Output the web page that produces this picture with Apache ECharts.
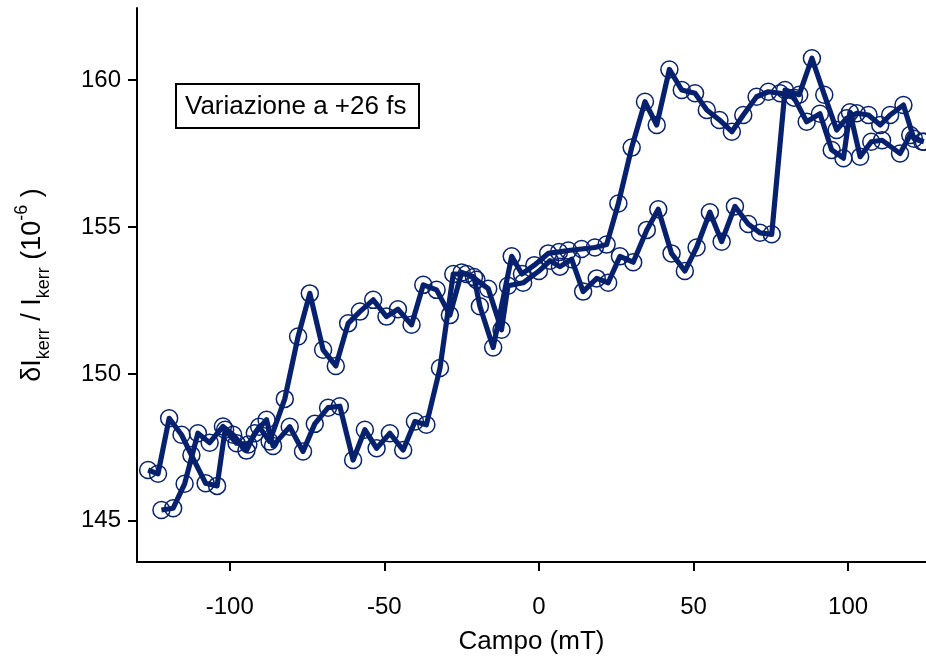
<!DOCTYPE html>
<html>
<head>
<meta charset="utf-8">
<script src="https://cdn.jsdelivr.net/npm/echarts@6/dist/echarts.min.js"></script>
<style>
  html, body { margin: 0; padding: 0; background: #fff; }
  #chart { width: 926px; height: 662px; }
</style>
</head>
<body>
<div id="chart"></div>
<script>
// Field sweep that switches at about -78 mT and +25 mT (decreasing branch)
const fieldDown = [-126.4,-123.2,-119.6,-115.6,-112.4,-107.8,-104.1,-101.5,-97.8,-94.0,-90.5,-87.1,-82.2,-77.9,-74.1,-69.8,-65.7,-61.7,-57.9,-53.6,-49.3,-45.6,-41.2,-37.4,-33.1,-28.8,-25.0,-21.0,-19.1,-14.8,-8.8,-5.5,-1.5,3.0,6.5,9.5,13.8,18.1,21.9,25.7,30.0,34.3,38.1,42.2,46.2,50.5,54.3,58.4,62.4,66.1,70.4,74.2,78.0,82.5,86.6,90.9,94.7,98.5,100.6,103.9,107.5,111.0,116.8,120.1,124.0];
const kerrDown = [146.73,146.6,148.49,147.93,147.24,146.28,146.19,148.1,147.64,147.6,148.2,147.7,149.15,151.27,152.74,150.82,150.27,151.72,152.12,152.52,151.95,152.2,151.67,153.03,152.86,152.0,153.45,153.3,152.3,150.9,154.0,153.4,153.7,154.1,154.15,154.2,154.25,154.3,154.4,155.8,157.7,159.26,158.47,160.36,159.66,159.55,158.98,158.64,158.24,158.81,159.43,159.6,159.55,159.4,158.58,158.85,157.62,157.34,158.9,157.39,157.9,157.95,157.5,158.13,157.9];

// Field sweep that switches at about -30 mT and +78 mT (increasing branch)
const fieldUp = [-122.1,-118.3,-114.6,-110.3,-106.5,-102.2,-98.9,-94.6,-91.9,-88.1,-86.0,-80.6,-76.3,-72.5,-68.2,-64.4,-60.1,-56.3,-52.5,-48.2,-43.9,-40.1,-36.4,-32.0,-27.7,-23.4,-20.2,-16.4,-12.1,-10.0,-5.1,0.0,3.6,6.8,10.6,14.3,18.7,22.4,26.2,30.5,34.9,38.6,42.9,47.2,51.0,55.3,59.1,63.4,67.7,71.5,75.3,79.6,84.2,88.3,92.3,96.3,99.5,102.8,106.6,110.4,113.6,117.9,121.3,124.5];
const kerrUp = [145.37,145.43,146.26,147.98,147.66,148.21,147.93,147.39,147.98,148.44,147.55,148.2,147.36,148.3,148.85,148.9,147.07,148.1,147.47,147.98,147.41,148.38,148.27,150.2,153.4,153.4,153.2,152.9,151.5,153.0,153.1,153.5,153.85,153.65,153.9,152.8,153.25,153.1,154.0,153.8,154.9,155.6,154.1,153.5,154.3,155.5,154.5,155.7,155.1,154.8,154.75,159.66,159.5,160.74,159.5,158.3,158.7,158.87,158.81,158.47,158.81,159.15,158.0,157.9];

const xTicks = [-100, -50, 0, 50, 100];
const yTicks = [145, 150, 155, 160];

const FONT = 'Liberation Sans, Arial, Helvetica, sans-serif';
const NAVY = '#08216e';

function pairs(xs, ys) { return xs.map((x, i) => [x, ys[i]]); }

function branch(name, xs, ys) {
  return {
    name: name,
    type: 'line',
    data: pairs(xs, ys),
    symbol: 'circle',
    symbolSize: 17,
    showAllSymbol: true,
    lineStyle: { color: NAVY, width: 5.2, join: 'round' },
    itemStyle: { color: 'rgba(0,0,0,0)', borderColor: NAVY, borderWidth: 1.5 },
    z: 3
  };
}

const chart = echarts.init(document.getElementById('chart'), null, { renderer: 'canvas' });
chart.setOption({
  animation: false,
  backgroundColor: '#fff',
  grid: { left: 137, top: 8, right: 0, bottom: 100, containLabel: false, outerBoundsMode: 'none' },
  xAxis: {
    type: 'value',
    min: -130, max: 125.2,
    name: 'Campo (mT)',
    nameLocation: 'middle',
    nameGap: 67,
    nameTextStyle: { fontFamily: FONT, fontSize: 26, color: '#000' },
    axisLine: { show: true, onZero: false, lineStyle: { color: '#000', width: 2 } },
    axisTick: { show: true, inside: false, length: 9, lineStyle: { color: '#000', width: 2 }, customValues: xTicks },
    axisLabel: { fontFamily: FONT, fontSize: 24, color: '#000', margin: 33, customValues: xTicks },
    splitLine: { show: false }
  },
  yAxis: {
    type: 'value',
    min: 143.6, max: 162.45,
    name: '{n|δI}{s|kerr}{n| / I}{s|kerr}{n| (10}{p|-6}{n| )}',
    nameLocation: 'middle',
    nameGap: 84,
    nameTextStyle: {
      fontFamily: FONT, color: '#000',
      rich: {
        n: { fontFamily: FONT, fontSize: 27, color: '#000', lineHeight: 40, verticalAlign: 'middle' },
        s: { fontFamily: FONT, fontSize: 18, color: '#000', lineHeight: 40, verticalAlign: 'bottom' },
        p: { fontFamily: FONT, fontSize: 18, color: '#000', lineHeight: 40, verticalAlign: 'top' }
      }
    },
    axisLine: { show: true, onZero: false, lineStyle: { color: '#000', width: 2 } },
    axisTick: { show: true, inside: false, length: 9, lineStyle: { color: '#000', width: 2 }, customValues: yTicks },
    axisLabel: { fontFamily: FONT, fontSize: 24, color: '#000', margin: 16, customValues: yTicks },
    splitLine: { show: false }
  },
  series: [
    branch('Sweep down', fieldDown, kerrDown),
    branch('Sweep up', fieldUp, kerrUp)
  ],
  graphic: [
    {
      type: 'group',
      left: 175, top: 83,
      children: [
        { type: 'rect', shape: { x: 0, y: 0, width: 243, height: 44 },
          style: { fill: '#fff', stroke: '#000', lineWidth: 2 } },
        { type: 'text', x: 9, y: 23,
          style: { text: 'Variazione a +26 fs', fontFamily: FONT, fontSize: 26, fill: '#000', verticalAlign: 'middle', align: 'left' } }
      ],
      z: 10
    }
  ]
});
</script>
</body>
</html>
